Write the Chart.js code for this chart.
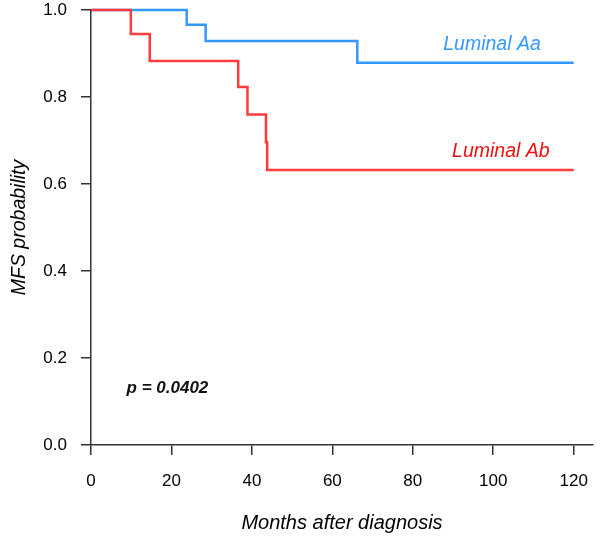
<!DOCTYPE html>
<html>
<head>
<meta charset="utf-8">
<script src="https://cdn.jsdelivr.net/npm/chart.js@4.4.1/dist/chart.umd.min.js"></script>
<style>
  body { margin: 0; background: #fff; }
  #wrap { width: 600px; height: 543px; }
</style>
</head>
<body>
<div id="wrap"><canvas id="km"></canvas></div>
<script>
// Kaplan-Meier steps (months, survival after the drop)
let aaMonths = [0, 23.8, 28.5, 66.2, 120];
let aaSurv   = [1.0, 0.966, 0.929, 0.879, 0.879];
let abMonths = [0, 9.9, 14.6, 36.6, 38.9, 43.5, 43.8, 120];
let abSurv   = [1.0, 0.945, 0.883, 0.823, 0.760, 0.696, 0.632, 0.632];

let xTicks = [0, 20, 40, 60, 80, 100, 120];
let yTicks = [0.0, 0.2, 0.4, 0.6, 0.8, 1.0];

function toPoints(xs, ys) {
  let pts = [];
  for (let i = 0; i < xs.length; i++) pts.push({x: xs[i], y: ys[i]});
  return pts;
}

const fam = '"Liberation Sans", Arial, sans-serif';

// text labels inside the plot (x in months, y at text baseline)
let notes = [
  {text: 'Luminal Aa', x: 99.7, y: 0.908, color: '#3399ff', font: 'italic 19.5px ' + fam},
  {text: 'Luminal Ab', x: 101.9, y: 0.663, color: '#ee1111', font: 'italic 19.5px ' + fam},
  {text: 'p = 0.0402', x: 19.0, y: 0.1195, color: '#111', font: 'italic bold 17px ' + fam}
];

const notePlugin = {
  id: 'notes',
  afterDatasetsDraw(chart) {
    const ctx = chart.ctx;
    ctx.save();
    ctx.textAlign = 'center';
    ctx.textBaseline = 'alphabetic';
    notes.forEach(n => {
      ctx.font = n.font;
      ctx.fillStyle = n.color;
      ctx.fillText(n.text, chart.scales.x.getPixelForValue(n.x), chart.scales.y.getPixelForValue(n.y));
    });
    ctx.restore();
  }
};

const axisColor = '#333';
const tickFont = {family: fam, size: 17};

new Chart(document.getElementById('km'), {
  type: 'line',
  data: {
    datasets: [{
      label: 'Luminal Ab',
      data: toPoints(abMonths, abSurv),
      borderColor: '#ff3b3b',
      borderWidth: 2.5,
      stepped: 'before',
      pointRadius: 0,
      fill: false,
      clip: false
    }, {
      label: 'Luminal Aa',
      data: toPoints(aaMonths, aaSurv),
      borderColor: '#3399ff',
      borderWidth: 2.5,
      stepped: 'before',
      pointRadius: 0,
      fill: false,
      clip: false
    }]
  },
  options: {
    responsive: true,
    maintainAspectRatio: false,
    animation: false,
    layout: {padding: {top: 0, right: 7, left: 0, bottom: 0}},
    plugins: {legend: {display: false}, tooltip: {enabled: false}},
    scales: {
      x: {
        type: 'linear',
        min: 0,
        max: 124.8,
        afterBuildTicks: s => { s.ticks = xTicks.map(v => ({value: v})); },
        afterFit: s => { s.height = 98; s.paddingLeft = 0; s.paddingRight = 0; },
        grid: {drawOnChartArea: false, drawTicks: true, tickLength: 10, color: axisColor, lineWidth: 1.5},
        border: {color: axisColor, width: 1.5},
        ticks: {color: '#000', font: tickFont, padding: 16, maxRotation: 0},
        title: {display: true, text: 'Months after diagnosis', color: '#000',
                font: {family: fam, size: 20, style: 'italic'}, padding: {top: 4, bottom: 8}}
      },
      y: {
        min: 0,
        max: 1,
        afterBuildTicks: s => { s.ticks = yTicks.map(v => ({value: v})); },
        afterFit: s => { s.width = 91; s.paddingTop = 10; s.paddingBottom = 0; },
        grid: {drawOnChartArea: false, drawTicks: true, tickLength: 10, color: axisColor, lineWidth: 1.5},
        border: {color: axisColor, width: 1.5},
        ticks: {color: '#000', font: tickFont, padding: 14, callback: v => v.toFixed(1)},
        title: {display: true, text: 'MFS probability', color: '#000',
                font: {family: fam, size: 19.5, style: 'italic'}, padding: {top: 8, bottom: 4}}
      }
    }
  },
  plugins: [notePlugin]
});
</script>
</body>
</html>
